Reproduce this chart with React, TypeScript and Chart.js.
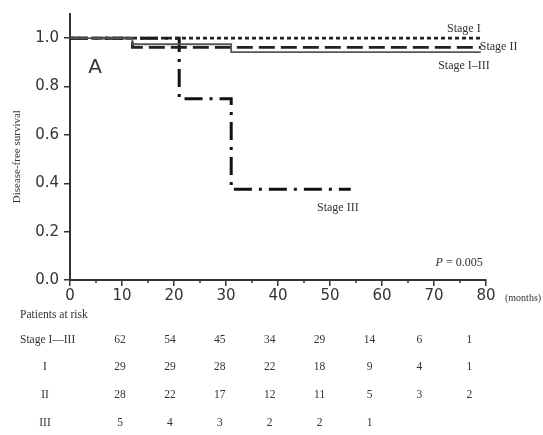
import React, { useEffect, useRef } from "react";
import { Chart, registerables } from "chart.js";

Chart.register(...registerables);

// Kaplan–Meier step data (months, survival)
const stageAllX = [0, 12, 31, 79];
const stageAllY = [1.0, 0.975, 0.942, 0.942];
const stage1X = [0, 79];
const stage1Y = [1.0, 1.0];
const stage2X = [0, 12, 79];
const stage2Y = [1.0, 0.962, 0.962];
const stage3X = [0, 21, 31, 54];
const stage3Y = [1.0, 0.75, 0.375, 0.375];

const xTicks = [0, 10, 20, 30, 40, 50, 60, 70, 80];
const yTicks = [0, 0.2, 0.4, 0.6, 0.8, 1.0];

const riskRowLabels = ["Stage I\u2014III", "I", "II", "III"];
const riskAll = ["62", "54", "45", "34", "29", "14", "6", "1"];
const risk1 = ["29", "29", "28", "22", "18", "9", "4", "1"];
const risk2 = ["28", "22", "17", "12", "11", "5", "3", "2"];
const risk3 = ["5", "4", "3", "2", "2", "1", "", ""];

const toPts = (xs: number[], ys: number[]) => xs.map((x, i) => ({ x, y: ys[i] }));

const SERIF = "'Liberation Serif', 'Times New Roman', serif";
const SANS = "'DejaVu Sans', Verdana, sans-serif";

const overlay = {
  id: "overlay",
  afterDraw(chart: any) {
    const ctx = chart.ctx as CanvasRenderingContext2D;
    const xs = chart.scales.x;
    const ys = chart.scales.y;
    const ca = chart.chartArea;
    ctx.save();
    // minor x ticks
    ctx.strokeStyle = "#333";
    ctx.lineWidth = 1.5;
    for (let m = 5; m < 80; m += 10) {
      const px = xs.getPixelForValue(m);
      ctx.beginPath();
      ctx.moveTo(px, ca.bottom);
      ctx.lineTo(px, ca.bottom + 3);
      ctx.stroke();
    }
    // "A"
    ctx.fillStyle = "#333";
    ctx.font = `20px ${SANS}`;
    ctx.textAlign = "left";
    ctx.textBaseline = "middle";
    ctx.fillText("A", xs.getPixelForValue(3.5), ys.getPixelForValue(0.877));
    // curve labels
    ctx.font = `12px ${SERIF}`;
    ctx.fillStyle = "#333";
    ctx.fillText("Stage I", xs.getPixelForValue(72.5), ys.getPixelForValue(1.04));
    ctx.fillText("Stage II", xs.getPixelForValue(78.8), ys.getPixelForValue(0.965));
    ctx.fillText("Stage I\u2013III", xs.getPixelForValue(70.8), ys.getPixelForValue(0.885));
    ctx.fillText("Stage III", xs.getPixelForValue(47.5), ys.getPixelForValue(0.3));
    // P value
    ctx.font = `italic 12px ${SERIF}`;
    const pX = xs.getPixelForValue(70.3);
    const pY = ys.getPixelForValue(0.073);
    ctx.fillText("P", pX, pY);
    const pw = ctx.measureText("P").width;
    ctx.font = `12px ${SERIF}`;
    ctx.fillText(" = 0.005", pX + pw, pY);
    // months unit
    ctx.font = `10px ${SERIF}`;
    ctx.fillText("(months)", ca.right + 19, ca.bottom + 18);
    // y title
    ctx.save();
    ctx.translate(17, ys.getPixelForValue(0.51));
    ctx.rotate(-Math.PI / 2);
    ctx.textAlign = "center";
    ctx.font = `11px ${SERIF}`;
    ctx.fillText("Disease-free survival", 0, 0);
    ctx.restore();
    // risk table
    ctx.font = `11.5px ${SERIF}`;
    ctx.fillStyle = "#333";
    ctx.textAlign = "left";
    ctx.fillText("Patients at risk", 20, ca.bottom + 35);
    const rows = [riskAll, risk1, risk2, risk3];
    const rowY = [340, 367, 395, 423];
    rows.forEach((row, r) => {
      ctx.textAlign = r === 0 ? "left" : "center";
      ctx.fillText(riskRowLabels[r], r === 0 ? 20 : 45, rowY[r]);
      ctx.textAlign = "center";
      row.forEach((v, i) => {
        ctx.fillText(v, ca.left + 50 + i * 49.9, rowY[r]);
      });
    });
    ctx.restore();
  },
};

export default function App() {
  const ref = useRef<HTMLCanvasElement | null>(null);
  useEffect(() => {
    document.body.style.margin = "0";
    const c = ref.current!;
    const chart = new Chart(c, {
      type: "line",
      data: {
        datasets: [
          {
            label: "Stage I–III",
            data: toPts(stageAllX, stageAllY),
            stepped: "before",
            borderColor: "#555",
            borderWidth: 1.8,
            pointRadius: 0,
            fill: false,
          },
          {
            label: "Stage I",
            data: toPts(stage1X, stage1Y),
            stepped: "before",
            borderColor: "#222",
            borderWidth: 2.8,
            borderDash: [4, 3],
            pointRadius: 0,
            fill: false,
          },
          {
            label: "Stage II",
            data: toPts(stage2X, stage2Y),
            stepped: "before",
            borderColor: "#222",
            borderWidth: 2.8,
            borderDash: [16, 6],
            pointRadius: 0,
            fill: false,
          },
          {
            label: "Stage III",
            data: toPts(stage3X, stage3Y),
            stepped: "before",
            borderColor: "#111",
            borderWidth: 3,
            borderDash: [18, 7, 3, 7],
            pointRadius: 0,
            fill: false,
          },
        ],
      },
      options: {
        responsive: false,
        animation: false,
        layout: { padding: { left: 0, right: 57, top: 8, bottom: 0 } },
        plugins: { legend: { display: false }, tooltip: { enabled: false } },
        scales: {
          x: {
            type: "linear",
            min: 0,
            max: 80,
            afterFit: (s: any) => {
              s.height = 155;
            },
            afterBuildTicks: (s: any) => {
              s.ticks = xTicks.map((v) => ({ value: v }));
            },
            ticks: {
              color: "#333",
              font: { family: SANS, size: 15 },
              padding: 1,
              maxRotation: 0,
              autoSkip: false,
            },
            grid: {
              drawOnChartArea: false,
              drawTicks: true,
              tickLength: 6,
              tickColor: "#333",
              lineWidth: 1.5,
            },
            border: { display: true, color: "#333", width: 2 },
          },
          y: {
            type: "linear",
            min: 0,
            max: 1.1,
            afterFit: (s: any) => {
              s.width = 70;
            },
            afterBuildTicks: (s: any) => {
              s.ticks = yTicks.map((v) => ({ value: v }));
            },
            ticks: {
              color: "#333",
              font: { family: SANS, size: 15 },
              padding: 5,
              callback: (v: any) => Number(v).toFixed(1),
            },
            grid: {
              drawOnChartArea: false,
              drawTicks: true,
              tickLength: 6,
              tickColor: "#333",
              lineWidth: 1.5,
            },
            border: { display: true, color: "#333", width: 2 },
          },
        },
      },
      plugins: [overlay],
    });
    return () => chart.destroy();
  }, []);
  return (
    <div style={{ position: "absolute", left: 0, top: 0, width: 543, height: 435, background: "#fff" }}>
      <canvas ref={ref} width={543} height={435} style={{ width: 543, height: 435 }} />
    </div>
  );
}
